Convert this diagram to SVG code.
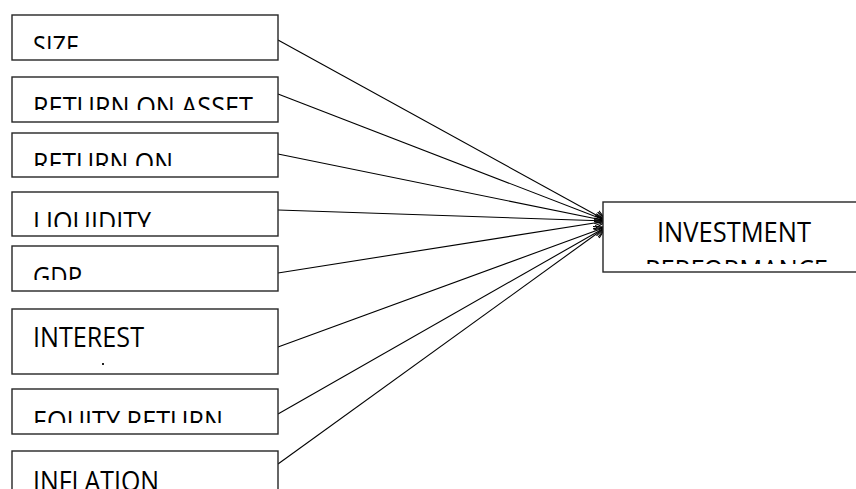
<svg xmlns="http://www.w3.org/2000/svg" width="856" height="489" viewBox="0 0 856 489">
<style>
.box{fill:#fff;stroke:#262626;stroke-width:1.4}
.lbl{font-family:"Open Sans","Liberation Sans",sans-serif;font-size:28px;fill:#000}
.conn{stroke:#000;stroke-width:1.1;fill:none;marker-end:url(#arr)}
</style>
<defs>
<marker id="arr" markerUnits="userSpaceOnUse" markerWidth="14" markerHeight="12" refX="12" refY="5" orient="auto" viewBox="0 0 14 10">
<path d="M0,0 L12,5 L0,10" fill="none" stroke="#000" stroke-width="1.1"/>
</marker>
<clipPath id="c1"><rect x="12" y="15" width="266" height="34"/></clipPath>
<clipPath id="c2"><rect x="12" y="77" width="266" height="33"/></clipPath>
<clipPath id="c3"><rect x="12" y="133" width="266" height="33"/></clipPath>
<clipPath id="c4"><rect x="12" y="192" width="266" height="35"/></clipPath>
<clipPath id="c5"><rect x="12" y="246" width="266" height="34"/></clipPath>
<clipPath id="c7"><rect x="12" y="389" width="266" height="34"/></clipPath>
<clipPath id="c8"><rect x="12" y="451" width="266" height="38"/></clipPath>
<clipPath id="c9"><rect x="603" y="202" width="260" height="62"/></clipPath>
</defs>
<g id="connectors">
<line class="conn" x1="278" y1="40" x2="607" y2="221"/>
<line class="conn" x1="278" y1="94" x2="607" y2="221"/>
<line class="conn" x1="278" y1="154" x2="607" y2="221"/>
<line class="conn" x1="278" y1="210" x2="607" y2="221"/>
<line class="conn" x1="278" y1="273" x2="607" y2="221"/>
<line class="conn" x1="278" y1="347" x2="606" y2="227"/>
<line class="conn" x1="278" y1="414" x2="606" y2="227"/>
<line class="conn" x1="278" y1="464" x2="606" y2="227"/>
</g>
<g id="size">
<rect class="box" x="12" y="15" width="266" height="45"/>
<text class="lbl" x="33" y="56" textLength="46" lengthAdjust="spacingAndGlyphs" clip-path="url(#c1)">SIZE</text>
</g>
<g id="roa">
<rect class="box" x="12" y="77" width="266" height="45"/>
<text class="lbl" x="33" y="117" textLength="220" lengthAdjust="spacingAndGlyphs" clip-path="url(#c2)">RETURN ON ASSET</text>
</g>
<g id="ro">
<rect class="box" x="12" y="133" width="266" height="44"/>
<text class="lbl" x="33" y="173" textLength="140" lengthAdjust="spacingAndGlyphs" clip-path="url(#c3)">RETURN ON</text>
</g>
<g id="liquidity">
<rect class="box" x="12" y="192" width="266" height="44"/>
<text class="lbl" x="33" y="232" textLength="118" lengthAdjust="spacingAndGlyphs" clip-path="url(#c4)">LIQUIDITY</text>
</g>
<g id="gdp">
<rect class="box" x="12" y="246" width="266" height="45"/>
<text class="lbl" x="33" y="287" textLength="49" lengthAdjust="spacingAndGlyphs" clip-path="url(#c5)">GDP</text>
</g>
<g id="interest">
<rect class="box" x="12" y="309" width="266" height="65"/>
<text class="lbl" x="33" y="347" textLength="111" lengthAdjust="spacingAndGlyphs">INTEREST</text>
<rect x="102" y="363" width="2" height="2" fill="#222"/>
</g>
<g id="equity">
<rect class="box" x="12" y="389" width="266" height="45"/>
<text class="lbl" x="33" y="431" textLength="190" lengthAdjust="spacingAndGlyphs" clip-path="url(#c7)">EQUITY RETURN</text>
</g>
<g id="inflation">
<rect class="box" x="12" y="451" width="266" height="50"/>
<text class="lbl" x="33" y="491" textLength="126" lengthAdjust="spacingAndGlyphs" clip-path="url(#c8)">INFLATION</text>
</g>
<g id="investment">
<rect class="box" x="603" y="202" width="260" height="70"/>
<text class="lbl" x="657" y="242" textLength="154" lengthAdjust="spacingAndGlyphs">INVESTMENT</text>
<text class="lbl" x="645" y="280" textLength="183" lengthAdjust="spacingAndGlyphs" clip-path="url(#c9)">PERFORMANCE</text>
</g>
</svg>
